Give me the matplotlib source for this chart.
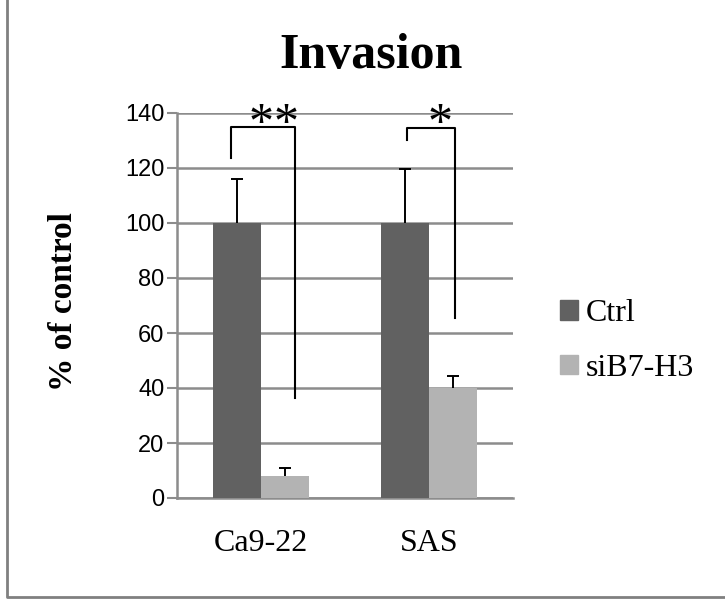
import numpy as np
from matplotlib import pyplot as plt
from matplotlib.lines import Line2D
from matplotlib.patches import Patch

# data
categories = ['Ca9-22', 'SAS']
ctrl = [100, 100]
ctrl_err = [16, 19.5]
si = [8, 40]
si_err = [2.8, 4.5]
series_names = ['Ctrl', 'siB7-H3']
yticks = [0, 20, 40, 60, 80, 100, 120, 140]

# significance brackets: x left, x right, y left bottom, y top, y right bottom
brackets = [
    (-0.179, 0.202, 123.5, 135, 36.5),
    (0.869, 1.155, 130, 134.5, 65.5),
]
# asterisk positions (x) for each bracket
stars_x = [[0.0, 0.152], [1.065]]

col_ctrl = '#616161'
col_si = '#b3b3b3'
grid_col = '#8c8c8c'

fig = plt.figure(figsize=(7.25, 6.07), dpi=100)
ax = fig.add_axes([177 / 725, 109 / 607, 336 / 725, 385 / 607])

x = np.arange(len(categories))
w = 0.2857
ax.bar(x - w / 2, ctrl, w, color=col_ctrl, zorder=3)
ax.bar(x + w / 2, si, w, color=col_si, zorder=3)
for xs, ys, es in [(x - w / 2, ctrl, ctrl_err), (x + w / 2, si, si_err)]:
    eb = ax.errorbar(xs, ys, yerr=[np.zeros(2), es], fmt='none',
                     ecolor='black', elinewidth=1.4, capsize=4.5, capthick=1.4, zorder=4)
    eb[1][0].set_visible(False)  # no lower cap

for (xl, xr, yl, yt, yr), sx in zip(brackets, stars_x):
    ax.plot([xl, xl, xr, xr], [yl, yt, yt, yr], color='black', lw=1.5,
            zorder=5, clip_on=False)
    for s in sx:
        ax.text(s, 135.8, '*', ha='center', va='center',
                fontsize=36, family='Liberation Serif', zorder=6)

ax.set_xlim(-0.5, 1.5)
ax.set_ylim(0, 140)
ax.set_yticks(yticks)
ax.set_yticklabels([str(v) for v in yticks], family='Liberation Sans', fontsize=17)
ax.set_xticks(x)
ax.set_xticklabels(categories, family='Liberation Serif', fontsize=23)
ax.tick_params(axis='x', length=0, pad=22)
ax.tick_params(axis='y', length=7, width=1.5, color=grid_col, pad=2)
ax.yaxis.grid(True, color=grid_col, lw=1.8, zorder=0)
ax.set_axisbelow(True)
for s in ['top', 'right']:
    ax.spines[s].set_visible(False)
for s in ['left', 'bottom']:
    ax.spines[s].set_color(grid_col)
    ax.spines[s].set_linewidth(1.8)

fig.text(63 / 725, 305 / 607, '% of control', rotation=90, ha='center', va='center',
         family='Liberation Serif', fontweight='bold', fontsize=24)
fig.text(371 / 725, 1 - 68 / 607, 'Invasion', ha='center', va='baseline',
         family='Liberation Serif', fontweight='bold', fontsize=36)

handles = [Patch(color=col_ctrl), Patch(color=col_si)]
leg = fig.legend(handles, series_names, loc='center left',
                 bbox_to_anchor=(560 / 725, 1 - 341 / 607), frameon=False,
                 prop={'family': 'Liberation Serif', 'size': 23},
                 handlelength=0.55, handleheight=0.55, handletextpad=0.25,
                 labelspacing=0.8, borderpad=0, borderaxespad=0)

# outer frame (only left and bottom visible)
fig.add_artist(Line2D([7 / 725, 7 / 725, 1], [1, 1 - 597 / 607, 1 - 597 / 607],
                      transform=fig.transFigure, color='#808080', lw=2))

fig.savefig('out.png', dpi=100)
